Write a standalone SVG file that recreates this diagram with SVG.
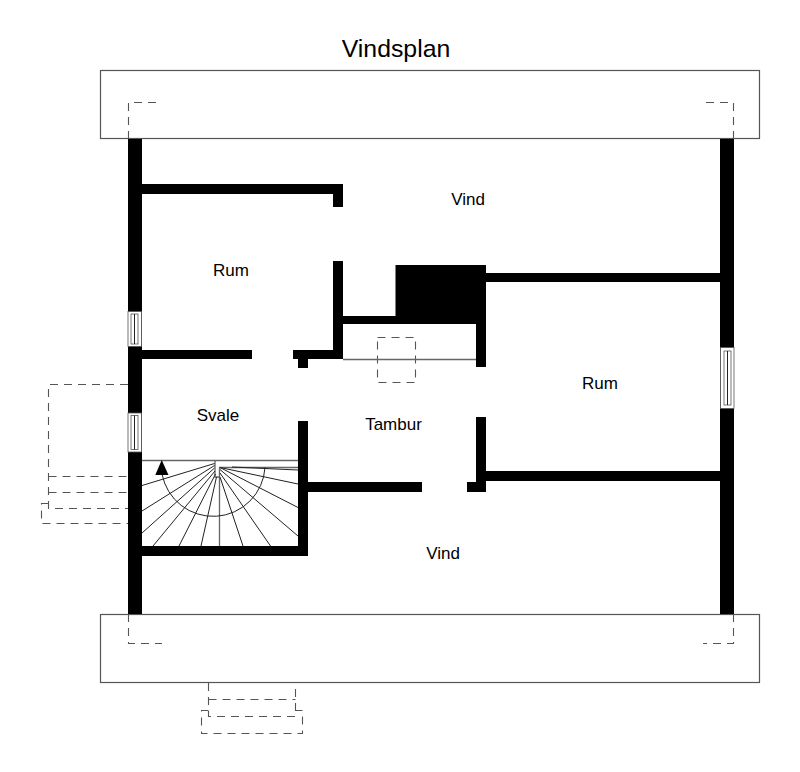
<svg xmlns="http://www.w3.org/2000/svg" width="800" height="772" viewBox="0 0 800 772">
<style>
text{font-family:"Liberation Sans",Arial,sans-serif;font-size:17px;fill:#000;text-anchor:middle}
.roof{fill:#fff;stroke:#555;stroke-width:1.2}
.wall{fill:#000;stroke:none}
.dash{fill:none;stroke:#555;stroke-width:1.1;stroke-dasharray:8 6}
.thin{fill:none;stroke:#222;stroke-width:1}
.grey{fill:none;stroke:#666;stroke-width:1.3}
.win{fill:#fff;stroke:#555;stroke-width:.8}
</style>
<rect width="800" height="772" fill="#fff"/>
<text x="396" y="57" style="font-size:24.800px">Vindsplan</text>
<g id="roof-top"><rect class="roof" x="100.500" y="70.500" width="659" height="68"/></g>
<g id="roof-bottom"><rect class="roof" x="100.500" y="614.500" width="659" height="68"/></g>
<g id="dashed-outlines">
<path class="dash" d="M128.500 139V102.500H160"/>
<path class="dash" d="M733.500 139V102.500H700"/>
<path class="dash" d="M128.500 614V643.500H162"/>
<path class="dash" d="M733.500 614V643.500H703"/>
<path class="dash" d="M128 384.500H48.500V508.500H128"/>
<path class="dash" d="M48.500 476.500H128M48.500 492.500H128"/>
<path class="dash" d="M48.500 503.500H41.500V523.500H128"/>
<path class="dash" d="M208.500 683V716.500H295.500V683"/>
<path class="dash" d="M208.500 699.500H295.500"/>
<path class="dash" d="M208.500 710.500H201.500V733.500H302.500V710.500H295.500"/>
<rect class="dash" x="377.500" y="337.500" width="38" height="45"/>
</g>
<g id="walls">
<rect class="wall" x="128" y="139" width="14" height="475"/>
<rect class="wall" x="720" y="139" width="14" height="475"/>
<path class="wall" d="M142 184H343V207H333V194H142Z"/>
<path class="wall" d="M333 261H343V316H395.500V265H486V273H720V282H486V367H476V324H343V359H308V368H298V359H293V350H333Z"/>
<rect class="wall" x="142" y="350" width="110" height="9"/>
<path class="wall" d="M298 421H308V482H422V492H308V556H142V546H298Z"/>
<path class="wall" d="M476 417H486V471H720V481H486V492H467V482H476Z"/>
</g>
<g id="window-left-1"><rect x="128" y="311.500" width="13.500" height="35" class="win"/><rect x="131" y="314" width="7" height="30" class="win"/><path class="thin" d="M134.500 314V344"/></g>
<g id="window-left-2"><rect x="128" y="413" width="13.500" height="39" class="win"/><rect x="131" y="415.500" width="7" height="34" class="win"/><path class="thin" d="M134.500 415.500V449.500"/></g>
<g id="window-right"><rect x="720.500" y="347.500" width="13.500" height="61" class="win"/><rect x="724" y="351" width="7" height="54" class="win"/><path class="thin" d="M727.500 351V405"/></g>
<g id="lines">
<path class="grey" d="M343 359.500H476"/>
<path class="grey" d="M142 460.500H298M215 460.500V477H219.500V467.500H298M219.500 477V546"/>
<path class="thin" d="M142 485.500L214.500 463.500M142 511L214.500 465.500M142 533L214.500 468M153 546L215 471M179 546L215.500 474M201 546L216.500 477M243 546L220 477M270.500 546L220 473M298 536L220 469.500M298 507.500L220 467.500M298 484L220 467.500M298 470L232 467"/>
<path class="thin" d="M162 474A52 52 0 0 0 265 467.500"/>
<path d="M161.700 460L168.500 475H155.300Z" fill="#000"/>
</g>
<g id="label-vind-1"><text x="468" y="204.500">Vind</text></g>
<g id="label-rum-1"><text x="231" y="275.500">Rum</text></g>
<g id="label-rum-2"><text x="600" y="388.500">Rum</text></g>
<g id="label-svale"><text x="218" y="420.500">Svale</text></g>
<g id="label-tambur"><text x="393.500" y="429.500">Tambur</text></g>
<g id="label-vind-2"><text x="443" y="558.500">Vind</text></g>
</svg>
